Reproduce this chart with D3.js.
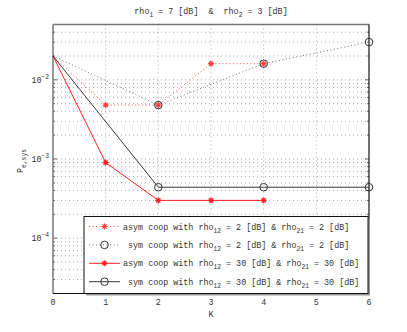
<!DOCTYPE html>
<html>
<head>
<meta charset="utf-8">
<script src="https://cdn.jsdelivr.net/npm/d3@7"></script>
<style>
  body { margin: 0; background: #fff; }
  text { font-family: "Liberation Mono", "Courier New", monospace; font-size: 8.4px; fill: #333; }
</style>
</head>
<body>
<div id="chart"></div>
<script>
// Series values
const kAsym2 = [0, 1, 2, 3, 4]
const peAsym2 = [2e-2, 4.8e-3, 4.8e-3, 1.6e-2, 1.6e-2]
const kSym2 = [0, 2, 4, 6]
const peSym2 = [2e-2, 4.8e-3, 1.6e-2, 3e-2]
const kAsym30 = [0, 1, 2, 3, 4]
const peAsym30 = [2e-2, 9e-4, 3e-4, 3e-4, 3e-4]
const kSym30 = [0, 2, 4, 6]
const peSym30 = [2e-2, 4.4e-4, 4.4e-4, 4.4e-4]

const xTicks = [0, 1, 2, 3, 4, 5, 6]
const yTicks = [1e-4, 1e-3, 1e-2]
const legendLabels = [
  ['asym coop with rho', '12', ' = 2 [dB] & rho', '21', ' = 2 [dB]'],
  [' sym coop with rho', '12', ' = 2 [dB] & rho', '21', ' = 2 [dB]'],
  ['asym coop with rho', '12', ' = 30 [dB] & rho', '21', ' = 30 [dB]'],
  [' sym coop with rho', '12', ' = 30 [dB] & rho', '21', ' = 30 [dB]']
]

;(() => {
  const width = 407
  const height = 332
  const margin = { top: 24.5, right: 38, bottom: 38.5, left: 53 }
  const innerWidth = width - margin.left - margin.right
  const innerHeight = height - margin.top - margin.bottom

  const svg = d3.select('#chart').append('svg')
    .attr('width', width).attr('height', height)

  const g = svg.append('g')
    .attr('transform', `translate(${margin.left}, ${margin.top})`)

  const x = d3.scaleLinear().domain([0, 6]).range([0, innerWidth])
  const y = d3.scaleLog().domain([2e-5, 5e-2]).range([innerHeight, 0])

  // minor log grid values inside the domain
  const minor = []
  for (let e = -5; e <= -2; e++) {
    for (let m = 1; m <= 9; m++) {
      const v = m * Math.pow(10, e)
      if (v >= 2e-5 && v <= 5e-2) minor.push(v)
    }
  }

  // Gridlines
  g.append('g').selectAll('line').data(minor).join('line')
    .attr('x1', 0).attr('x2', innerWidth)
    .attr('y1', d => y(d)).attr('y2', d => y(d))
    .attr('stroke', '#999').attr('stroke-width', 0.8)
    .attr('stroke-dasharray', '1,3')
  g.append('g').selectAll('line').data(xTicks.slice(1, -1)).join('line')
    .attr('x1', d => x(d)).attr('x2', d => x(d))
    .attr('y1', 0).attr('y2', innerHeight)
    .attr('stroke', '#999').attr('stroke-width', 0.8)
    .attr('stroke-dasharray', '1,3')

  // Inward ticks on left and right
  g.append('g').selectAll('line').data(minor).join('line')
    .attr('x1', 0).attr('x2', d => yTicks.includes(d) ? 4 : 2)
    .attr('y1', d => y(d)).attr('y2', d => y(d))
    .attr('stroke', '#444').attr('stroke-width', 0.8)
  g.append('g').selectAll('line').data(minor).join('line')
    .attr('x1', innerWidth).attr('x2', d => innerWidth - (yTicks.includes(d) ? 4 : 2))
    .attr('y1', d => y(d)).attr('y2', d => y(d))
    .attr('stroke', '#444').attr('stroke-width', 0.8)

  // Box
  g.append('line').attr('x1', 0).attr('x2', innerWidth).attr('y1', 0).attr('y2', 0)
    .attr('stroke', '#777').attr('stroke-width', 1.5)
  g.append('line').attr('x1', 0).attr('x2', 0).attr('y1', 0).attr('y2', innerHeight)
    .attr('stroke', '#777').attr('stroke-width', 1.5)
  g.append('line').attr('x1', innerWidth).attr('x2', innerWidth).attr('y1', 0).attr('y2', innerHeight)
    .attr('stroke', '#111').attr('stroke-width', 1.2)
  g.append('line').attr('x1', 0).attr('x2', innerWidth).attr('y1', innerHeight).attr('y2', innerHeight)
    .attr('stroke', '#111').attr('stroke-width', 1.2)

  // X tick labels
  g.append('g').selectAll('text').data(xTicks).join('text')
    .attr('x', d => x(d)).attr('y', innerHeight + 11)
    .attr('text-anchor', 'middle')
    .text(d => d)

  // Y tick labels 10^k
  const yl = g.append('g').selectAll('text').data(yTicks).join('text')
    .attr('x', -4).attr('y', d => y(d) + 3)
    .attr('text-anchor', 'end')
  yl.append('tspan').text('10')
  yl.append('tspan').attr('dy', -4).attr('font-size', '6.3px')
    .text(d => '\u2212' + Math.round(-Math.log10(d)))

  // Axis labels and title
  g.append('text').attr('x', innerWidth / 2).attr('y', innerHeight + 23)
    .attr('text-anchor', 'middle').text('K')

  const yLab = g.append('text')
    .attr('transform', `translate(-30, ${y(1e-3) + 2}) rotate(-90)`)
    .attr('text-anchor', 'middle')
  yLab.append('tspan').text('P')
  yLab.append('tspan').attr('dy', 3).attr('font-size', '6.3px').text('e,sys')

  const title = g.append('text').attr('x', innerWidth / 2).attr('y', -11)
    .attr('text-anchor', 'middle').attr('xml:space', 'preserve')
  title.append('tspan').text('rho')
  title.append('tspan').attr('dy', 3).attr('font-size', '6.3px').text('1')
  title.append('tspan').attr('dy', -3).text(' = 7 [dB]  &  rho')
  title.append('tspan').attr('dy', 3).attr('font-size', '6.3px').text('2')
  title.append('tspan').attr('dy', -3).text(' = 3 [dB]')

  // Series lines
  const line = d3.line().x(d => x(d[0])).y(d => y(d[1]))
  const series = [
    { k: kAsym2, v: peAsym2, color: '#ff4040', dash: '1,2.5', marker: 'star', width: 0.9 },
    { k: kSym2, v: peSym2, color: '#666', dash: '1,2.5', marker: 'circle', width: 0.9 },
    { k: kAsym30, v: peAsym30, color: '#ff2020', dash: null, marker: 'star', width: 1 },
    { k: kSym30, v: peSym30, color: '#222', dash: null, marker: 'circle', width: 0.9 }
  ]

  const drawMarker = (sel, type, color) => {
    if (type === 'circle') {
      sel.append('circle').attr('r', 3.8)
        .attr('fill', 'none').attr('stroke', '#333').attr('stroke-width', 1)
    } else {
      const r = 3
      const d = `M${-r},0L${r},0M0,${-r}L0,${r}M${-r * 0.7},${-r * 0.7}L${r * 0.7},${r * 0.7}M${-r * 0.7},${r * 0.7}L${r * 0.7},${-r * 0.7}`
      sel.append('path').attr('d', d)
        .attr('stroke', color).attr('stroke-width', 1.2).attr('fill', 'none')
    }
  }

  series.forEach(s => {
    const pts = s.k.map((k, i) => [k, s.v[i]])
    g.append('path').datum(pts)
      .attr('fill', 'none')
      .attr('stroke', s.color)
      .attr('stroke-width', s.width)
      .attr('stroke-dasharray', s.dash)
      .attr('d', line)
  })
  series.forEach(s => {
    const pts = s.k.map((k, i) => [k, s.v[i]]).filter(p => p[0] > 0)
    pts.forEach(p => {
      const m = g.append('g').attr('transform', `translate(${x(p[0])}, ${y(p[1])})`)
      drawMarker(m, s.marker, s.color)
    })
  })

  // Legend
  const lx = 31, ly = 192, lw = 284, lh = 77
  g.append('rect').attr('x', lx + 2).attr('y', ly + 2).attr('width', lw).attr('height', lh)
    .attr('fill', '#999')
  g.append('rect').attr('x', lx).attr('y', ly).attr('width', lw).attr('height', lh)
    .attr('fill', '#fff').attr('stroke', '#111').attr('stroke-width', 1)

  series.forEach((s, i) => {
    const ry = ly + 10 + i * 18.4
    const row = g.append('g').attr('transform', `translate(${lx}, ${ry})`)
    row.append('line').attr('x1', 5).attr('x2', 36).attr('y1', 0).attr('y2', 0)
      .attr('stroke', s.color).attr('stroke-width', s.width)
      .attr('stroke-dasharray', s.dash)
    drawMarker(row.append('g').attr('transform', 'translate(20.5, 0)'), s.marker, s.color)
    const t = row.append('text').attr('x', 39).attr('y', 3).attr('xml:space', 'preserve')
    const parts = legendLabels[i]
    t.append('tspan').text(parts[0])
    t.append('tspan').attr('dy', 3).attr('font-size', '6.3px').text(parts[1])
    t.append('tspan').attr('dy', -3).text(parts[2])
    t.append('tspan').attr('dy', 3).attr('font-size', '6.3px').text(parts[3])
    t.append('tspan').attr('dy', -3).text(parts[4])
  })
})()
</script>
</body>
</html>
